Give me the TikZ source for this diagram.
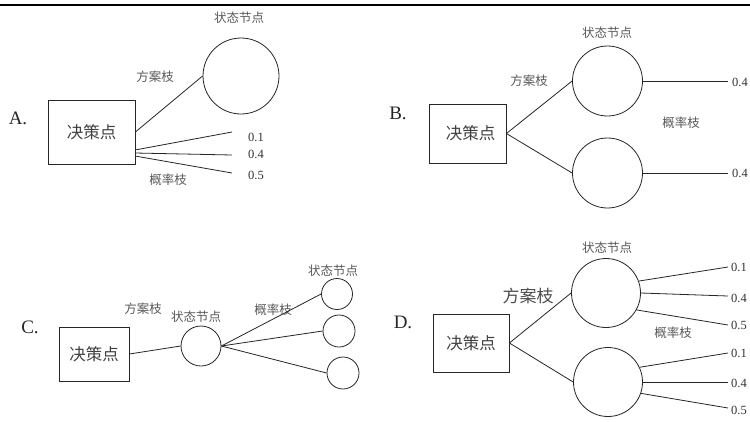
\documentclass[tikz,border=0pt]{standalone}
\usepackage{fontspec}
\setmainfont{Liberation Serif}
\newfontfamily\cjk{Noto Sans CJK SC}
\begin{document}
\begin{tikzpicture}[x=1pt,y=-1pt,
  line/.style={draw=black!85,line width=0.8pt},
  dbox/.style={rectangle,draw=black!85,line width=0.8pt,inner sep=0pt,text=black!75,font=\cjk\fontsize{16.5}{17}\selectfont},
  snode/.style={circle,draw=black!85,line width=0.8pt,inner sep=0pt},
  lbl/.style={inner sep=0pt,text=black!65,font=\cjk\fontsize{12.5}{13}\selectfont},
  biglbl/.style={inner sep=0pt,text=black!70,font=\cjk\fontsize{17}{17}\selectfont},
  num/.style={inner sep=0pt,anchor=west,text=black!80,font=\fontsize{12.5}{12.5}\selectfont},
  opt/.style={inner sep=0pt,text=black!85,font=\fontsize{19}{19}\selectfont}]
\useasboundingbox (0,0) rectangle (750,421);
\fill[white] (0,0) rectangle (750,421);
\draw[line width=2pt] (0,5) -- (750,5);

% ---------- A ----------
\node[opt] (optA) at (18,118) {A.};
\node[dbox,minimum width=87pt,minimum height=64pt] (bA) at (91.5,132) {决策点};
\node[snode,minimum size=76pt] (cA) at (241,76) {};
\node[lbl] (sA) at (239,18) {状态节点};
\node[lbl] (fA) at (155,77) {方案枝};
\node[lbl] (gA) at (168,180) {概率枝};
\draw[line] (bA.east) -- (cA.west);
\coordinate (a1s) at (135,150);
\coordinate (a2s) at (135,153);
\coordinate (a3s) at (135,156);
\coordinate (a1) at (232,132);
\coordinate (a2) at (232,155);
\coordinate (a3) at (232,173);
\draw[line] (a1s) -- (a1);
\draw[line] (a2s) -- (a2);
\draw[line] (a3s) -- (a3);
\node[num] (nA1) at (248,137) {0.1};
\node[num] (nA2) at (248,154) {0.4};
\node[num] (nA3) at (248,175) {0.5};

% ---------- B ----------
\node[opt] (optB) at (398,113) {B.};
\node[dbox,minimum width=77pt,minimum height=59pt] (bB) at (467.5,133.5) {\hspace{6pt}决策点};
\node[snode,minimum size=70pt] (cB1) at (607.5,81) {};
\node[snode,minimum size=70pt] (cB2) at (607.5,173) {};
\node[lbl] (sB) at (607,33) {状态节点};
\node[lbl] (fB) at (529,81) {方案枝};
\node[lbl] (gB) at (681,123) {概率枝};
\draw[line] (bB.east) -- (cB1.west);
\draw[line] (bB.east) -- (cB2.west);
\coordinate (b1) at (728,81);
\coordinate (b2) at (728,173);
\draw[line] (cB1.east) -- (b1);
\draw[line] (cB2.east) -- (b2);
\node[num] (nB1) at (732,82) {0.4};
\node[num] (nB2) at (732,173) {0.4};

% ---------- C ----------
\node[opt] (optC) at (30,327) {C.};
\node[dbox,minimum width=70pt,minimum height=54pt] (bC) at (94,354) {决策点};
\node[snode,minimum size=40pt] (cC) at (201,346) {};
\node[snode,minimum size=31pt] (s1) at (337,294) {};
\node[snode,minimum size=32pt] (s2) at (339,331) {};
\node[snode,minimum size=32pt] (s3) at (343,373) {};
\node[lbl] (sC) at (196,317) {状态节点};
\node[lbl] (sC2) at (333,271) {状态节点};
\node[lbl] (fC) at (143,309) {方案枝};
\node[lbl] (gC) at (273,310) {概率枝};
\draw[line] (bC.east) -- (cC.west);
\draw[line] (cC.east) -- (s1.west);
\draw[line] (cC.east) -- (s2.west);
\draw[line] (cC.east) -- (s3.west);

% ---------- D ----------
\node[opt] (optD) at (403,322) {D.};
\node[dbox,minimum width=76pt,minimum height=58pt] (bD) at (471,343) {决策点};
\node[snode,minimum size=69pt] (cD1) at (606,293) {};
\node[snode,minimum size=69pt] (cD2) at (608,382) {};
\node[lbl] (sD) at (607,248) {状态节点};
\node[biglbl] (fD) at (528,296) {方案枝};
\node[lbl] (gD) at (673,333) {概率枝};
\draw[line] (bD.east) -- (cD1.west);
\draw[line] (bD.east) -- (cD2.west);
\coordinate (d1) at (728,267);
\coordinate (d2) at (728,296);
\coordinate (d3) at (728,325);
\coordinate (d4) at (728,353);
\coordinate (d5) at (728,382);
\coordinate (d6) at (728,408);
\draw[line] (cD1.20) -- (d1);
\draw[line] (cD1.0) -- (d2);
\draw[line] (cD1.-29) -- (d3);
\draw[line] (cD2.25) -- (d4);
\draw[line] (cD2.0) -- (d5);
\draw[line] (cD2.-19) -- (d6);
\node[num] (nD1) at (731,267) {0.1};
\node[num] (nD2) at (731,298) {0.4};
\node[num] (nD3) at (731,325) {0.5};
\node[num] (nD4) at (731,353) {0.1};
\node[num] (nD5) at (731,383) {0.4};
\node[num] (nD6) at (731,410) {0.5};
\end{tikzpicture}
\end{document}
